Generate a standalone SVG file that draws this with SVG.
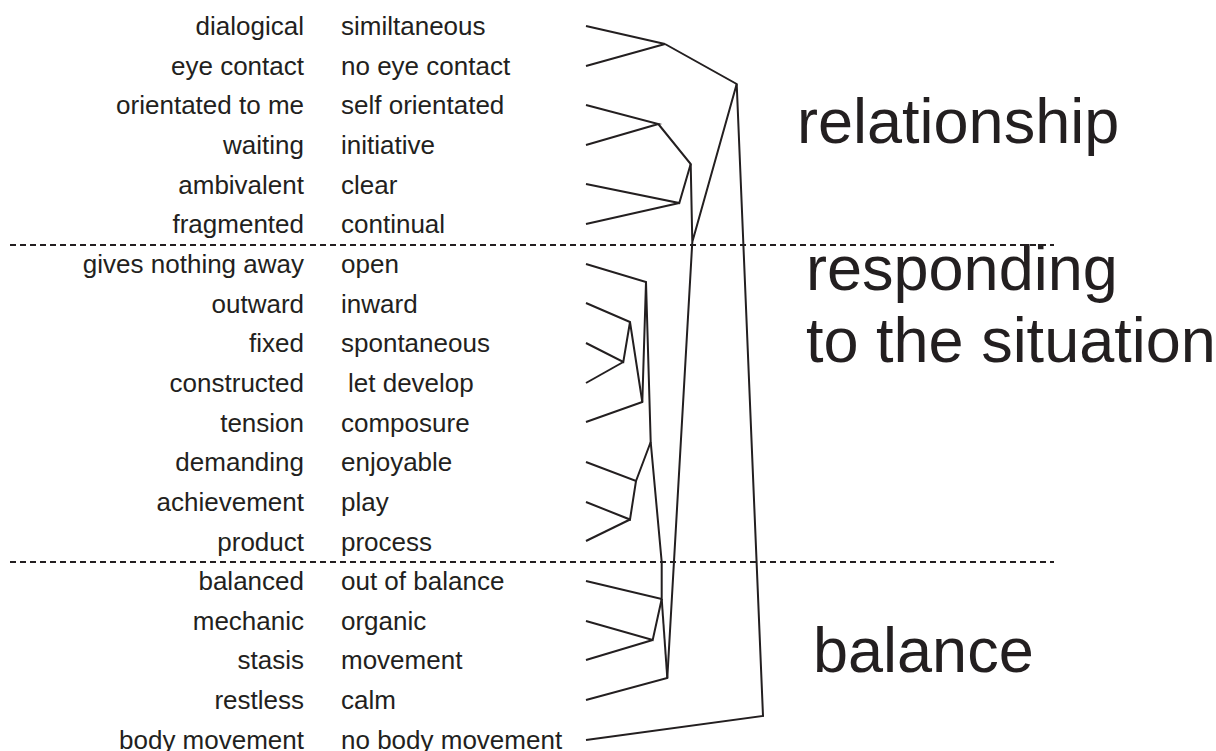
<svg xmlns="http://www.w3.org/2000/svg" width="1216" height="751" viewBox="0 0 1216 751">
<style>
.lbl{font-family:"Liberation Sans",Arial,sans-serif;font-size:26px;fill:#231f20}
.l{text-anchor:end}
.big{font-family:"Liberation Sans",Arial,sans-serif;font-size:63px;fill:#231f20}
.ln{stroke:#231f20;stroke-width:2;fill:none;stroke-linejoin:miter}
.dash{stroke:#231f20;stroke-width:2.2;stroke-dasharray:6 4;fill:none}
</style>
<rect width="1216" height="751" fill="#ffffff"/>
<g id="separators">
<line class="dash" x1="10" y1="245" x2="1054" y2="245"/>
<line class="dash" x1="10" y1="562" x2="1054" y2="562"/>
</g>
<g id="labels-left">
<text class="lbl l" x="304" y="35">dialogical</text>
<text class="lbl l" x="304" y="74.6">eye contact</text>
<text class="lbl l" x="304" y="114.3">orientated to me</text>
<text class="lbl l" x="304" y="154">waiting</text>
<text class="lbl l" x="304" y="193.6">ambivalent</text>
<text class="lbl l" x="304" y="233.3">fragmented</text>
<text class="lbl l" x="304" y="272.9">gives nothing away</text>
<text class="lbl l" x="304" y="312.6">outward</text>
<text class="lbl l" x="304" y="352.2">fixed</text>
<text class="lbl l" x="304" y="391.9">constructed</text>
<text class="lbl l" x="304" y="431.5">tension</text>
<text class="lbl l" x="304" y="471.2">demanding</text>
<text class="lbl l" x="304" y="510.8">achievement</text>
<text class="lbl l" x="304" y="550.5">product</text>
<text class="lbl l" x="304" y="590.1">balanced</text>
<text class="lbl l" x="304" y="629.8">mechanic</text>
<text class="lbl l" x="304" y="669.4">stasis</text>
<text class="lbl l" x="304" y="709">restless</text>
<text class="lbl l" x="304" y="748.7">body movement</text>
</g>
<g id="labels-right">
<text class="lbl" x="341" y="35">similtaneous</text>
<text class="lbl" x="341" y="74.6">no eye contact</text>
<text class="lbl" x="341" y="114.3">self orientated</text>
<text class="lbl" x="341" y="154">initiative</text>
<text class="lbl" x="341" y="193.6">clear</text>
<text class="lbl" x="341" y="233.3">continual</text>
<text class="lbl" x="341" y="272.9">open</text>
<text class="lbl" x="341" y="312.6">inward</text>
<text class="lbl" x="341" y="352.2">spontaneous</text>
<text class="lbl" x="348" y="391.9">let develop</text>
<text class="lbl" x="341" y="431.5">composure</text>
<text class="lbl" x="341" y="471.2">enjoyable</text>
<text class="lbl" x="341" y="510.8">play</text>
<text class="lbl" x="341" y="550.5">process</text>
<text class="lbl" x="341" y="590.1">out of balance</text>
<text class="lbl" x="341" y="629.8">organic</text>
<text class="lbl" x="341" y="669.4">movement</text>
<text class="lbl" x="341" y="709">calm</text>
<text class="lbl" x="341" y="748.7">no body movement</text>
</g>
<g id="group-labels">
<text class="big" x="797" y="143">relationship</text>
<text class="big" x="806" y="290">responding</text>
<text class="big" x="806" y="362">to the situation</text>
<text class="big" x="813" y="672">balance</text>
</g>
<g id="connectors">
<polyline class="ln" points="586,26 665,44 586,66"/>
<polyline class="ln" points="665,44 736.7,84 763,716 586,740"/>
<polyline class="ln" points="586,105 658.3,124 586,145"/>
<polyline class="ln" points="658.3,124 690.7,164 679.3,203 586,184"/>
<polyline class="ln" points="679.3,203 586,224"/>
<polyline class="ln" points="690.7,164 692.3,242 736.7,84"/>
<polyline class="ln" points="692.3,242 667.3,678 586,700"/>
<polyline class="ln" points="586,264 646,282 650.7,442"/>
<polyline class="ln" points="646,282 642.3,402 586,422"/>
<polyline class="ln" points="642.3,402 630,322 586,303"/>
<polyline class="ln" points="630,322 623.3,362 586,343"/>
<polyline class="ln" points="623.3,362 586,383"/>
<polyline class="ln" points="650.7,442 636,481 586,462"/>
<polyline class="ln" points="636,481 630,519.5 586,502"/>
<polyline class="ln" points="630,519.5 586,541"/>
<polyline class="ln" points="650.7,442 661.7,562 661.7,599 586,581"/>
<polyline class="ln" points="661.7,599 652.7,640 586,621"/>
<polyline class="ln" points="652.7,640 586,660"/>
<polyline class="ln" points="661.7,599 667.3,678"/>
</g>
</svg>
